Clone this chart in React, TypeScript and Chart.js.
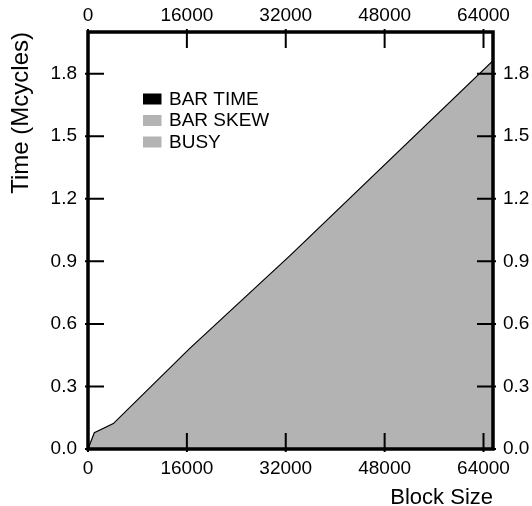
import React, { useEffect, useRef } from "react";
import { Chart, registerables } from "chart.js";

Chart.register(...registerables);

const blockSizes = [0, 1024, 4096, 16384, 32768, 65536];
const busyTime = [0, 0.078, 0.122, 0.48, 0.93, 1.862];
const barSkew = [0, 0, 0, 0, 0, 0];
const barTime = [0, 0, 0, 0, 0, 0];
const seriesLabels = ["BAR TIME", "BAR SKEW", "BUSY"];
const xTicks = [0, 16000, 32000, 48000, 64000];
const yTicks = [0, 0.3, 0.6, 0.9, 1.2, 1.5, 1.8];
const xMax = 65536;
const yMax = 2.0;

const FONT = '"Liberation Sans", Arial, Helvetica, sans-serif';
const GRAY = "#b3b3b3";

const framePlugin = {
  id: "frameTicks",
  afterDraw(chart: any) {
    const { ctx, chartArea } = chart;
    const { left, right, top, bottom } = chartArea;
    const xs = chart.scales.x;
    const ys = chart.scales.y;
    ctx.save();
    ctx.strokeStyle = "#000";
    ctx.lineWidth = 2;
    ctx.beginPath();
    xTicks.forEach((v) => {
      const px = xs.getPixelForValue(v);
      ctx.moveTo(px, bottom + 3);
      ctx.lineTo(px, bottom - 16);
      ctx.moveTo(px, top - 3);
      ctx.lineTo(px, top + 16);
    });
    yTicks.forEach((v) => {
      const py = ys.getPixelForValue(v);
      ctx.moveTo(left - 3, py);
      ctx.lineTo(left + 16, py);
      ctx.moveTo(right + 3, py);
      ctx.lineTo(right - 16, py);
    });
    ctx.stroke();
    ctx.lineWidth = 3.5;
    ctx.strokeRect(left, top, right - left, bottom - top);

    // legend inside plot
    ctx.font = `19px ${FONT}`;
    ctx.textBaseline = "middle";
    ctx.textAlign = "left";
    chart.data.datasets.forEach((ds: any, i: number) => {
      const y = 99 + i * 21.5;
      ctx.fillStyle = ds.legendColor;
      ctx.fillRect(143, y - 5.5, 18.5, 11);
      ctx.fillStyle = "#000";
      ctx.fillText(ds.label, 169, y + 0.5);
    });
    ctx.restore();
  },
};

export default function App() {
  const ref = useRef<HTMLCanvasElement | null>(null);
  useEffect(() => {
    if (!ref.current) return;
    const pts = (ys: number[]) => blockSizes.map((x, i) => ({ x, y: ys[i] }));
    const tickFont = { family: FONT, size: 19 };
    const common = {
      type: "linear" as const,
      grid: { display: false, drawTicks: false },
      border: { display: false },
    };
    const chart = new Chart(ref.current, {
      type: "line",
      data: {
        datasets: [
          {
            label: seriesLabels[0],
            data: pts(barTime),
            borderWidth: 0,
            pointRadius: 0,
            fill: false,
            borderColor: "#000",
            legendColor: "#000",
          } as any,
          {
            label: seriesLabels[1],
            data: pts(barSkew),
            borderWidth: 0,
            pointRadius: 0,
            fill: false,
            borderColor: GRAY,
            legendColor: GRAY,
          } as any,
          {
            label: seriesLabels[2],
            data: pts(busyTime),
            borderWidth: 1.2,
            borderColor: "#000",
            backgroundColor: GRAY,
            pointRadius: 0,
            fill: "origin",
            tension: 0,
            legendColor: GRAY,
          } as any,
        ],
      },
      options: {
        responsive: false,
        animation: false,
        layout: { padding: 0 },
        plugins: { legend: { display: false }, tooltip: { enabled: false } },
        scales: {
          x: {
            ...common,
            position: "bottom",
            min: 0,
            max: xMax,
            afterBuildTicks: (s: any) => {
              s.ticks = xTicks.map((v) => ({ value: v }));
            },
            afterFit: (s: any) => {
              s.height = 57;
            },
            ticks: { font: tickFont, color: "#000", padding: 8, maxRotation: 0, autoSkip: false, callback: (v: any) => String(v) },
            title: { display: true, text: "Block Size", align: "end", color: "#000", font: { family: FONT, size: 22 }, padding: { top: 0, bottom: -5 } },
          },
          x2: {
            ...common,
            position: "top",
            min: 0,
            max: xMax,
            afterBuildTicks: (s: any) => {
              s.ticks = xTicks.map((v) => ({ value: v }));
            },
            afterFit: (s: any) => {
              s.height = 32;
            },
            ticks: { font: tickFont, color: "#000", padding: 5, maxRotation: 0, autoSkip: false, callback: (v: any) => String(v) },
          },
          y: {
            ...common,
            position: "left",
            min: 0,
            max: yMax,
            afterBuildTicks: (s: any) => {
              s.ticks = yTicks.map((v) => ({ value: v }));
            },
            afterFit: (s: any) => {
              s.width = 88;
            },
            ticks: { font: tickFont, color: "#000", padding: 11, autoSkip: false, callback: (v: any) => Number(v).toFixed(1) },
            title: { display: true, text: "Time (Mcycles)", align: "end", color: "#000", font: { family: FONT, size: 24 }, padding: { top: 7, bottom: 0 } },
          },
          y2: {
            ...common,
            position: "right",
            min: 0,
            max: yMax,
            afterBuildTicks: (s: any) => {
              s.ticks = yTicks.map((v) => ({ value: v }));
            },
            afterFit: (s: any) => {
              s.width = 39;
            },
            ticks: { font: tickFont, color: "#000", padding: 10, autoSkip: false, callback: (v: any) => Number(v).toFixed(1) },
          },
        },
      } as any,
      plugins: [framePlugin],
    });
    return () => chart.destroy();
  }, []);
  return (
    <div style={{ position: "fixed", left: 0, top: 0, width: 532, height: 506, background: "#fff" }}>
      <canvas ref={ref} width={532} height={506} style={{ display: "block" }} />
    </div>
  );
}
